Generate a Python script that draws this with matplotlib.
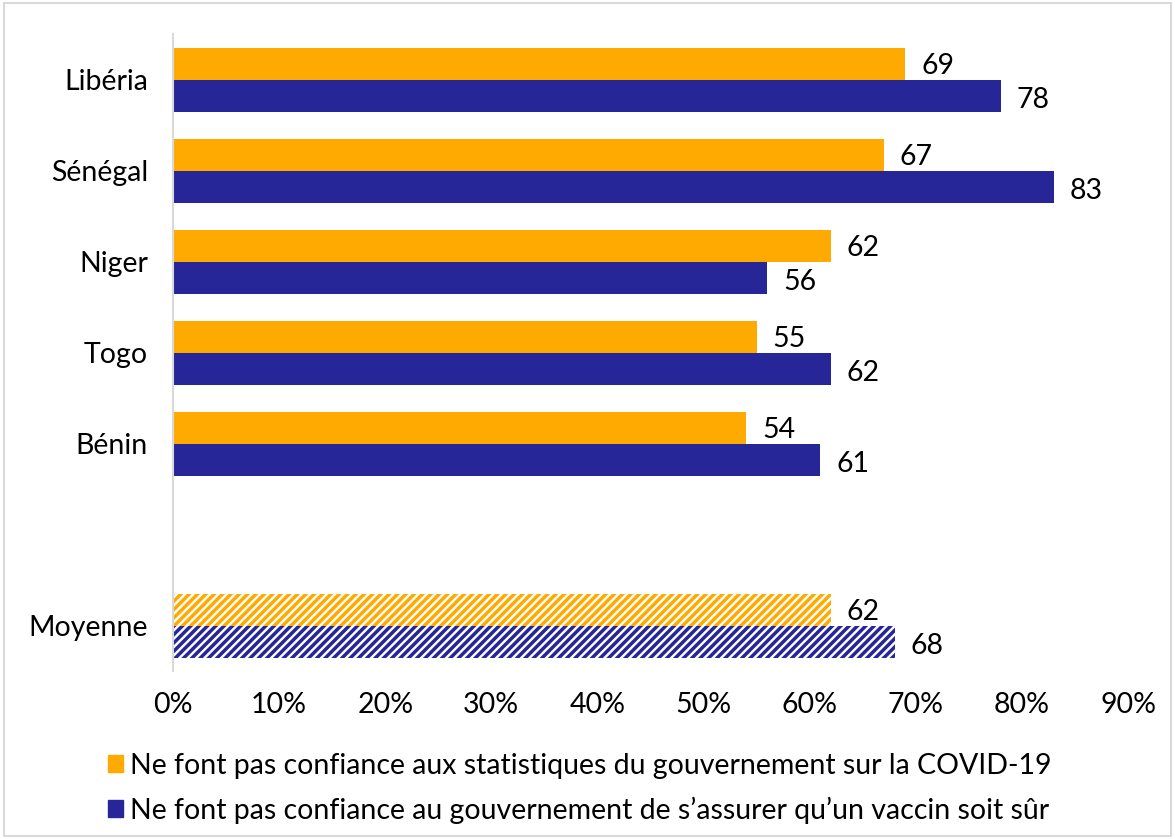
import matplotlib.pyplot as plt
from matplotlib.patches import Patch, Rectangle

plt.rcParams['font.family'] = ['Lato', 'DejaVu Sans']
plt.rcParams['hatch.linewidth'] = 2.5

countries = ['Libéria', 'Sénégal', 'Niger', 'Togo', 'Bénin', '', 'Moyenne']
stats = [69, 67, 62, 55, 54, None, 62]
vaccin = [78, 83, 56, 62, 61, None, 68]
xticks = [0, 10, 20, 30, 40, 50, 60, 70, 80, 90]

orange = '#FFAA00'
navy = '#262699'
h = 0.35
fs = 20.5

fig = plt.figure(figsize=(11.75, 8.39), dpi=100)
ax = fig.add_axes([0.1472, 0.1997, 0.8128, 0.7592])

for i, (a, b) in enumerate(zip(stats, vaccin)):
    if a is None:
        continue
    avg = countries[i] == 'Moyenne'
    if avg:
        ax.barh(i - h / 2, a, height=h, color='white', edgecolor=orange, hatch='////', linewidth=0)
        ax.barh(i + h / 2, b, height=h, color='white', edgecolor=navy, hatch='////', linewidth=0)
    else:
        ax.barh(i - h / 2, a, height=h, color=orange)
        ax.barh(i + h / 2, b, height=h, color=navy)
    ax.text(a + 1.5, i - h / 2 + 0.02, str(a), va='center', ha='left', fontsize=fs)
    ax.text(b + 1.5, i + h / 2 + 0.05, str(b), va='center', ha='left', fontsize=fs)

ax.set_xlim(0, 90)
ax.set_ylim(6.5, -0.5)
ax.set_xticks(xticks)
ax.set_xticklabels(['%d%%' % t for t in xticks], fontsize=fs)
ax.set_yticks(range(len(countries)))
ax.set_yticklabels(countries, fontsize=fs)
ax.tick_params(axis='both', length=0)
ax.tick_params(axis='x', pad=15)
ax.tick_params(axis='y', pad=18)
for s in ['top', 'right', 'bottom']:
    ax.spines[s].set_visible(False)
ax.spines['left'].set_color('#d9d9d9')
ax.spines['left'].set_linewidth(1.5)

handles = [Patch(color=orange, label='Ne font pas confiance aux statistiques du gouvernement sur la COVID-19'),
           Patch(color=navy, label='Ne font pas confiance au gouvernement de s\u2019assurer qu\u2019un vaccin soit s\u00fbr')]
fig.legend(handles=handles, loc='upper left', bbox_to_anchor=(0.092, 0.103), frameon=False,
           fontsize=fs, handlelength=0.53, handleheight=0.53, handletextpad=0.25, labelspacing=0.62,
           borderaxespad=0, borderpad=0)

fig.patches.append(Rectangle((0.003, 0.003), 0.994, 0.994, transform=fig.transFigure,
                             fill=False, edgecolor='#d9d9d9', linewidth=1.5))

fig.savefig('out.png', dpi=100)
